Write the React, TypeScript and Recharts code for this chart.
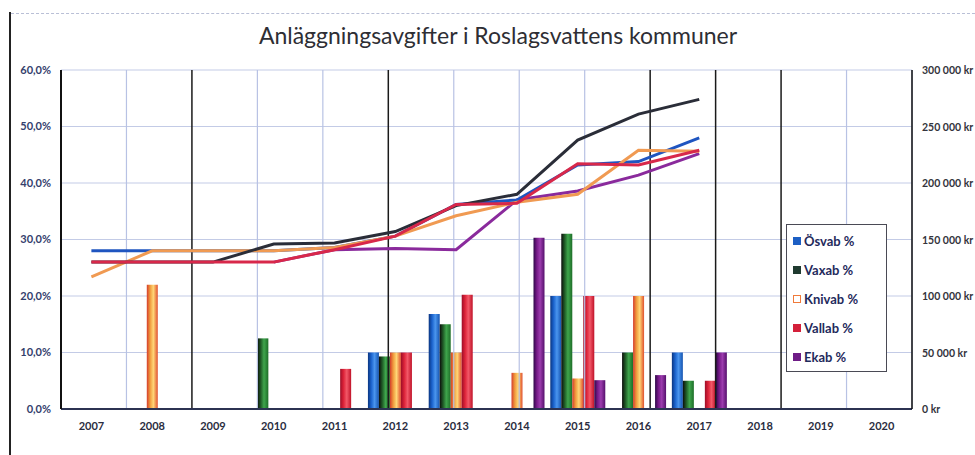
import {
  ComposedChart,
  Bar,
  Line,
  XAxis,
  YAxis,
  CartesianGrid,
  ReferenceLine,
} from 'recharts'

const YEARS = ['2007', '2008', '2009', '2010', '2011', '2012', '2013', '2014', '2015', '2016', '2017', '2018', '2019', '2020']

// bars, left axis (%)
const OSVAB_PCT = [null, null, null, null, null, 10, 16.8, null, 20, null, 10, null, null, null]
const VAXAB_PCT = [null, null, null, 12.5, null, 9.3, 15, null, 31, 10, 5, null, null, null]
const KNIVAB_PCT = [null, 22, null, null, null, 10, 10, 6.4, 5.4, 20, null, null, null, null]
const VALLAB_PCT = [null, null, null, null, 7.1, 10, 20.2, null, 20, null, 5, null, null, null]
const EKAB_PCT = [null, null, null, null, null, null, null, 30.3, 5.1, 6, 10, null, null, null]

// lines, right axis (kr)
const OSVAB_KR = [140000, 140000, 140000, 140000, 143000, 153000, 181000, 185000, 216000, 219000, 240000, null, null, null]
const VAXAB_KR = [130000, 130000, 130000, 146000, 147000, 157000, 180000, 190000, 238000, 261000, 274000, null, null, null]
const KNIVAB_KR = [117000, 140000, 140000, 140000, 143000, 153000, 171000, 183000, 190000, 229000, 228000, null, null, null]
const VALLAB_KR = [130000, 130000, 130000, 130000, 141000, 153000, 181000, 182000, 217000, 216000, 229000, null, null, null]
const EKAB_KR = [null, null, null, 130000, 141000, 142000, 141000, 185000, 193000, 207000, 226000, null, null, null]

const PCT_TICKS = [0, 10, 20, 30, 40, 50, 60]
const KR_TICKS = [0, 50000, 100000, 150000, 200000, 250000, 300000]

const data = YEARS.map((year, i) => ({
  year,
  osvabPct: OSVAB_PCT[i],
  vaxabPct: VAXAB_PCT[i],
  knivabPct: KNIVAB_PCT[i],
  vallabPct: VALLAB_PCT[i],
  ekabPct: EKAB_PCT[i],
  osvabKr: OSVAB_KR[i],
  vaxabKr: VAXAB_KR[i],
  knivabKr: KNIVAB_KR[i],
  vallabKr: VALLAB_KR[i],
  ekabKr: EKAB_KR[i],
}))

const BARS = [
  { key: 'osvabPct', name: 'Ösvab %', grad: 'gOsvab', icon: '#1d5fc4', stops: ['#0b3580', '#1a62cc', '#4a95ee', '#1554b0'] },
  { key: 'vaxabPct', name: 'Vaxab %', grad: 'gVaxab', icon: '#1f3a30', stops: ['#0c0c0c', '#1f5a26', '#3fa54c', '#1d6e28'] },
  { key: 'knivabPct', name: 'Knivab %', grad: 'gKnivab', icon: '#f07a3a', stops: ['#d43c2c', '#f09a3c', '#ffd676', '#e0502e'] },
  { key: 'vallabPct', name: 'Vallab %', grad: 'gVallab', icon: '#d4203a', stops: ['#9c0e28', '#dc2238', '#f25868', '#c01228'] },
  { key: 'ekabPct', name: 'Ekab %', grad: 'gEkab', icon: '#6e1c86', stops: ['#2e0848', '#761a88', '#9c3cae', '#55106c'] },
]

const LINES = [
  { key: 'ekabKr', color: '#8a2a9c' },
  { key: 'osvabKr', color: '#1f55c0' },
  { key: 'knivabKr', color: '#f09a52' },
  { key: 'vaxabKr', color: '#2a2d38' },
  { key: 'vallabKr', color: '#d8284a' },
]

const DARK_LINES = [2, 5, 9, 10, 11]
const BOUNDS = Array.from({ length: YEARS.length + 1 }, (_, i) => i)

const fmtPct = (v: number) => `${v},0%`
const fmtKr = (v: number) => (v === 0 ? '0 kr' : `${v / 1000} 000 kr`)

const axisFont = { fontFamily: 'Lato, sans-serif', fontWeight: 700 }

const XTick = ({ x, y, payload }: any) => (
  <text x={x} y={y} dy={9} textAnchor="middle" fontSize={11} fill="#2a2d40" style={axisFont}>
    {payload.value}
  </text>
)

const KrTick = ({ x, y, payload }: any) => (
  <text x={x} y={y} dy={4} textAnchor="start" fontSize={10.5} fill="#33343c" style={axisFont}>
    {fmtKr(payload.value)}
  </text>
)

const LegendBox = () => (
  <div
    style={{
      position: 'absolute',
      left: 786,
      top: 224,
      width: 101,
      height: 148,
      border: '1px solid #4a4a55',
      background: '#fff',
      boxSizing: 'border-box',
      padding: '1px 0 0 6px',
      fontFamily: 'Lato, sans-serif',
      fontWeight: 700,
      fontSize: 13,
      color: '#1f2a5c',
    }}
  >
    {BARS.map((b) => (
      <div key={b.key} style={{ display: 'flex', alignItems: 'center', height: 29 }}>
        <span
          style={{
            display: 'inline-block',
            width: 8,
            height: 8,
            marginRight: 3,
            background: b.key === 'knivabPct' ? '#fff' : b.icon,
            border: `1.5px solid ${b.icon}`,
            boxSizing: 'border-box',
          }}
        />
        {b.name}
      </div>
    ))}
  </div>
)

export default function App() {
  return (
    <div style={{ position: 'fixed', left: 0, top: 0, width: 975, height: 455, background: '#fff', overflow: 'hidden' }}>
      <div style={{ position: 'absolute', left: 9, top: 12, width: 2, height: 443, background: '#222' }} />
      <div style={{ position: 'absolute', left: 11, top: 13, width: 964, height: 0, borderTop: '1px dashed #b9bfd6' }} />
      <div
        style={{
          position: 'absolute',
          left: 0,
          top: 21,
          width: 996,
          textAlign: 'center',
          fontFamily: 'Lato, sans-serif',
          fontSize: 23,
          color: '#2e2e34',
        }}
      >
        Anläggningsavgifter i Roslagsvattens kommuner
      </div>
      <ComposedChart
        width={975}
        height={455}
        data={data}
        margin={{ top: 70, right: 6, bottom: 16, left: 11 }}
        barGap={0}
        barCategoryGap={3}
        style={{ position: 'absolute', left: 0, top: 0 }}
      >
        <defs>
          {BARS.map((b) => (
            <linearGradient key={b.grad} id={b.grad} x1="0" y1="0" x2="1" y2="0">
              <stop offset="0%" stopColor={b.stops[0]} />
              <stop offset="30%" stopColor={b.stops[1]} />
              <stop offset="60%" stopColor={b.stops[2]} />
              <stop offset="100%" stopColor={b.stops[3]} />
            </linearGradient>
          ))}
        </defs>
        <CartesianGrid yAxisId="pct" vertical={false} stroke="#c3cbe6" strokeWidth={1} />
        <XAxis
          dataKey="year"
          height={30}
          tick={<XTick />}
          tickLine={false}
          tickSize={6}
          tickMargin={6}
          axisLine={{ stroke: '#2c3352', strokeWidth: 2 }}
        />
        <XAxis xAxisId="grid" type="number" domain={[0, YEARS.length]} hide />
        <YAxis
          yAxisId="pct"
          width={50}
          domain={[0, 60]}
          ticks={PCT_TICKS}
          tickFormatter={fmtPct}
          tick={{ fill: '#34406c', fontSize: 11, ...axisFont }}
          tickLine={false}
          tickMargin={4}
          axisLine={{ stroke: '#111', strokeWidth: 2 }}
        />
        <YAxis
          yAxisId="kr"
          orientation="right"
          width={57}
          domain={[0, 300000]}
          ticks={KR_TICKS}
          tick={<KrTick />}
          tickLine={false}
          tickMargin={4}
          axisLine={{ stroke: '#111', strokeWidth: 1.5 }}
        />
        {BOUNDS.slice(1, -1).map((k) => (
          <ReferenceLine
            key={k}
            xAxisId="grid"
            yAxisId="pct"
            x={k}
            stroke={DARK_LINES.includes(k) ? '#1a1a1a' : '#b8c2e4'}
            strokeWidth={DARK_LINES.includes(k) ? 1.5 : 1.2}
          />
        ))}
        {BARS.map((b) => (
          <Bar
            key={b.key}
            yAxisId="pct"
            dataKey={b.key}
            name={b.name}
            fill={`url(#${b.grad})`}
            barSize={11}
            isAnimationActive={false}
          />
        ))}
        {LINES.map((l) => (
          <Line
            key={l.key}
            yAxisId="kr"
            dataKey={l.key}
            type="linear"
            stroke={l.color}
            strokeWidth={3}
            dot={false}
            connectNulls={false}
            isAnimationActive={false}
          />
        ))}
      </ComposedChart>
      <LegendBox />
    </div>
  )
}
